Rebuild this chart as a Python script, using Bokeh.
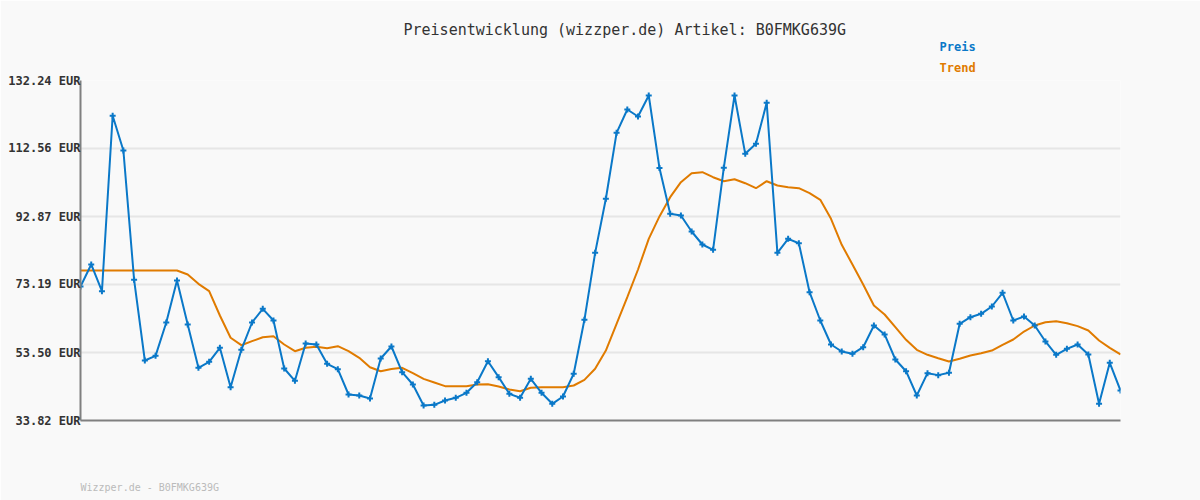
from bokeh.plotting import figure
from bokeh.models import FixedTicker, Range1d, Title
from bokeh.embed import file_html
from bokeh.resources import INLINE

preis = [72.61, 78.98, 71.25, 122.02, 111.98, 74.55, 51.19, 52.54, 62.19, 74.35,
         61.61, 49.07, 50.80, 54.86, 43.47, 54.29, 62.19, 66.15, 62.77, 48.87,
         45.30, 56.11, 55.82, 50.23, 48.67, 41.35, 41.06, 40.19, 51.77, 55.24,
         47.80, 44.24, 38.16, 38.36, 39.61, 40.39, 41.84, 44.91, 50.99, 46.37,
         41.54, 40.39, 45.88, 41.84, 38.65, 40.77, 47.34, 62.97, 82.35, 98.00,
         117.10, 123.85, 121.82, 127.90, 106.90, 93.65, 93.16, 88.53, 84.77, 83.22,
         106.97, 127.90, 111.02, 113.91, 125.78, 82.35, 86.41, 85.14, 70.97, 62.77,
         55.82, 53.79, 53.12, 55.04, 61.32, 58.72, 51.48, 48.09, 41.06, 47.52,
         46.95, 47.63, 61.81, 63.73, 64.70, 66.82, 70.78, 62.77, 63.92, 61.32,
         56.69, 52.84, 54.57, 55.82, 52.93, 38.65, 50.52, 42.50]

trend = [77.24, 77.24, 77.24, 77.24, 77.24, 77.24, 77.24, 77.24, 77.24, 77.24,
         76.08, 73.38, 71.25, 64.22, 57.76, 55.62, 56.78, 57.93, 58.22, 55.82,
         53.88, 54.86, 55.15, 54.75, 55.33, 53.88, 51.97, 49.25, 48.09, 48.70,
         49.07, 47.52, 45.88, 44.82, 43.76, 43.76, 43.76, 44.24, 44.33, 43.66,
         42.79, 42.30, 43.28, 43.47, 43.47, 43.47, 43.95, 45.59, 48.79, 54.08,
         61.81, 69.52, 77.53, 86.41, 92.90, 98.46, 102.80, 105.41, 105.70, 104.25,
         103.09, 103.67, 102.51, 101.06, 103.09, 101.85, 101.36, 101.06, 99.62, 97.71,
         92.21, 84.68, 78.98, 73.19, 67.11, 64.50, 60.83, 57.18, 54.29, 52.84,
         51.86, 50.90, 51.68, 52.63, 53.30, 54.08, 55.73, 57.27, 59.58, 61.32,
         62.28, 62.57, 61.99, 61.13, 59.87, 56.98, 54.86, 52.93]

y_ticks = [33.82, 53.50, 73.19, 92.87, 112.56, 132.24]
y_tick_labels = ["33.82 EUR", "53.50 EUR", "73.19 EUR", "92.87 EUR", "112.56 EUR", "132.24 EUR"]

title_text = "Preisentwicklung (wizzper.de) Artikel: B0FMKG639G"
series_names = ["Preis", "Trend"]
footer_text = "Wizzper.de - B0FMKG639G"

BLUE = "#0a78c8"
ORANGE = "#e07b00"
BG = "#f9f9f9"
MONO = "DejaVu Sans Mono"

x = list(range(len(preis)))

p = figure(width=1200, height=500, output_backend="svg", toolbar_location=None, title=None,
           min_border_left=80, min_border_right=80, min_border_top=80, min_border_bottom=80,
           x_range=Range1d(0, len(preis) - 1), y_range=Range1d(y_ticks[0], y_ticks[-1]))
p.background_fill_color = BG
p.border_fill_color = BG
p.outline_line_color = None

p.xgrid.visible = False
p.ygrid.ticker = FixedTicker(ticks=y_ticks)
p.ygrid.grid_line_color = "#e6e6e6"
p.ygrid.grid_line_width = 2

p.yaxis.ticker = FixedTicker(ticks=y_ticks)
p.yaxis.major_label_overrides = {t: l for t, l in zip(y_ticks, y_tick_labels)}
p.yaxis.axis_line_color = "#808080"
p.yaxis.axis_line_width = 2
p.yaxis.major_tick_line_color = None
p.yaxis.minor_tick_line_color = None
p.yaxis.major_tick_out = 0
p.yaxis.major_tick_in = 0
p.yaxis.major_label_standoff = 0
p.yaxis.major_label_text_font = MONO
p.yaxis.major_label_text_font_style = "bold"
p.yaxis.major_label_text_font_size = "12px"
p.yaxis.major_label_text_color = "#333333"

p.xaxis.ticker = FixedTicker(ticks=[])
p.xaxis.axis_line_color = "#808080"
p.xaxis.axis_line_width = 2
p.xaxis.major_tick_line_color = None
p.xaxis.minor_tick_line_color = None
p.xaxis.major_tick_in = 0
p.xaxis.minor_tick_out = 0
p.xaxis.major_tick_out = 0

p.line(x, trend, line_color=ORANGE, line_width=2)
p.line(x, preis, line_color=BLUE, line_width=2)
p.scatter(x, preis, marker="cross", size=6, line_color=BLUE, line_width=2)

# stacked titles above the frame: first added sits nearest the frame
p.add_layout(Title(text=series_names[1], align="left", offset=859, standoff=11,
                   text_font=MONO, text_font_size="12px", text_font_style="bold",
                   text_color=ORANGE), "above")
p.add_layout(Title(text=series_names[0], align="left", offset=859, standoff=-1,
                   text_font=MONO, text_font_size="12px", text_font_style="bold",
                   text_color=BLUE), "above")
p.add_layout(Title(text=title_text, align="left", offset=323, standoff=0,
                   text_font=MONO, text_font_size="15px", text_font_style="normal",
                   text_color="#333333"), "above")

# blank spacer below the frame, then the footer
p.add_layout(Title(text=" ", align="left", offset=0, standoff=46,
                   text_font=MONO, text_font_size="10px",
                   text_color=BG), "below")
p.add_layout(Title(text=footer_text, align="left", offset=0, standoff=0,
                   text_font=MONO, text_font_size="10px", text_font_style="normal",
                   text_color="#bbbbbb"), "below")

open("out.html", "w").write(file_html(p, INLINE))
